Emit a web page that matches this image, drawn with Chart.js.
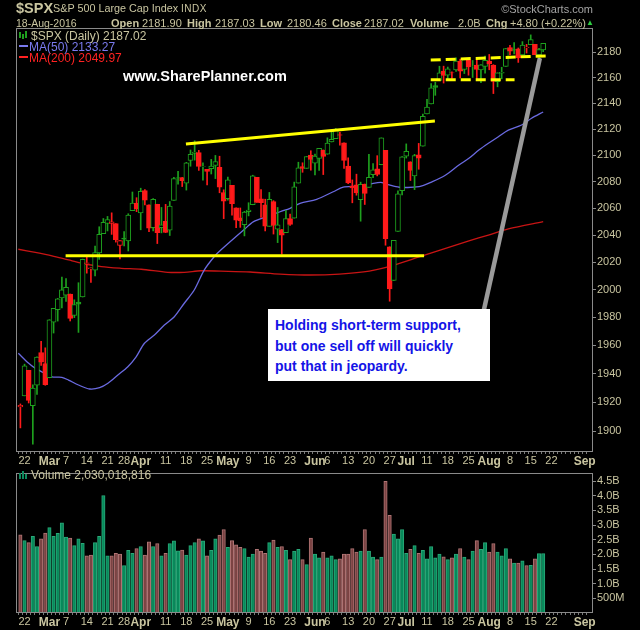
<!DOCTYPE html>
<html>
<head>
<meta charset="utf-8">
<script src="https://cdn.jsdelivr.net/npm/chart.js@4.4.0/dist/chart.umd.min.js"></script>
<style>
html, body { margin: 0; padding: 0; background: #000; }
body { width: 640px; height: 630px; position: relative; overflow: hidden;
       font-family: "Liberation Sans", Arial, sans-serif; color: #c9c5a0; }
canvas { position: absolute; left: 0; }
.t { position: absolute; white-space: nowrap; line-height: normal; }
.b { font-weight: bold; }
#note { position: absolute; left: 268px; top: 309px; width: 222px; height: 72px; background: #fff; }
#note div { position: absolute; left: 7px; font: bold 14px "Liberation Sans", Arial, sans-serif; color: #1414e6; white-space: nowrap; }
</style>
</head>
<body>
<canvas id="price" width="640" height="475" style="top:0"></canvas>
<canvas id="volume" width="640" height="165" style="top:465px"></canvas>

<div class="t b" style="left:16px;top:0px;font-size:14.5px;">$SPX</div>
<div class="t" style="left:53px;top:2px;font-size:10.8px;">S&amp;P 500 Large Cap Index</div>
<div class="t" style="left:181px;top:3px;font-size:10px;letter-spacing:0.5px;">INDX</div>
<div class="t" style="right:47px;top:3px;font-size:11px;color:#a3a3a3;">&copy;StockCharts.com</div>
<div class="t" style="left:16px;top:17px;font-size:10.5px;">18-Aug-2016</div>
<div class="t b" style="left:111px;top:17px;font-size:11px;">Open</div>
<div class="t" style="left:142px;top:17px;font-size:11px;">2181.90</div>
<div class="t b" style="left:187px;top:17px;font-size:11px;">High</div>
<div class="t" style="left:215px;top:17px;font-size:11px;">2187.03</div>
<div class="t b" style="left:260px;top:17px;font-size:11px;">Low</div>
<div class="t" style="left:287px;top:17px;font-size:11px;">2180.46</div>
<div class="t b" style="left:332px;top:17px;font-size:11px;">Close</div>
<div class="t" style="left:364px;top:17px;font-size:11px;">2187.02</div>
<div class="t b" style="left:410px;top:17px;font-size:11px;">Volume</div>
<div class="t" style="left:458px;top:17px;font-size:11px;">2.0B</div>
<div class="t b" style="left:486px;top:17px;font-size:11px;">Chg</div>
<div class="t" style="left:510px;top:17px;font-size:11px;">+4.80 (+0.22%)</div>
<div class="t" style="left:586px;top:18px;font-size:8px;color:#2ecc40;">&#9650;</div>

<div style="position:absolute;left:19px;top:32px;width:2px;height:6px;background:#1ea01e"></div>
<div style="position:absolute;left:22px;top:34px;width:2px;height:5px;background:#1ea01e"></div>
<div style="position:absolute;left:25px;top:31px;width:2px;height:7px;background:#1ea01e"></div>
<div class="t" style="left:31px;top:29px;font-size:12px;">$SPX (Daily) 2187.02</div>
<div style="position:absolute;left:19px;top:45px;width:9px;height:2px;background:#7a7aee"></div>
<div class="t" style="left:29px;top:40px;font-size:12px;color:#7a7aee;">MA(50) 2133.27</div>
<div style="position:absolute;left:19px;top:56px;width:9px;height:2px;background:#ff2222"></div>
<div class="t" style="left:29px;top:51px;font-size:12px;color:#ff2222;">MA(200) 2049.97</div>
<div class="t b" style="left:123px;top:68px;font-size:14.5px;color:#fff;">www.SharePlanner.com</div>

<div id="note">
  <div style="top:8px">Holding short-term support,</div>
  <div style="top:29px">but one sell off will quickly</div>
  <div style="top:49px">put that in jeopardy.</div>
</div>

<div style="position:absolute;left:19px;top:473px;width:2px;height:6px;background:#0e8a5e"></div>
<div style="position:absolute;left:22px;top:471px;width:2px;height:8px;background:#0e8a5e"></div>
<div style="position:absolute;left:25px;top:474px;width:2px;height:5px;background:#0e8a5e"></div>
<div class="t" style="left:31px;top:468px;font-size:12px;">Volume 2,030,018,816</div>

<script>
// trading days shown
const dates = [
  '2016-02-19','2016-02-22','2016-02-23','2016-02-24','2016-02-25','2016-02-26','2016-02-29',
  '2016-03-01','2016-03-02','2016-03-03','2016-03-04','2016-03-07','2016-03-08','2016-03-09','2016-03-10','2016-03-11',
  '2016-03-14','2016-03-15','2016-03-16','2016-03-17','2016-03-18','2016-03-21','2016-03-22','2016-03-23','2016-03-24',
  '2016-03-28','2016-03-29','2016-03-30','2016-03-31',
  '2016-04-01','2016-04-04','2016-04-05','2016-04-06','2016-04-07','2016-04-08','2016-04-11','2016-04-12','2016-04-13',
  '2016-04-14','2016-04-15','2016-04-18','2016-04-19','2016-04-20','2016-04-21','2016-04-22','2016-04-25','2016-04-26',
  '2016-04-27','2016-04-28','2016-04-29',
  '2016-05-02','2016-05-03','2016-05-04','2016-05-05','2016-05-06','2016-05-09','2016-05-10','2016-05-11','2016-05-12',
  '2016-05-13','2016-05-16','2016-05-17','2016-05-18','2016-05-19','2016-05-20','2016-05-23','2016-05-24','2016-05-25',
  '2016-05-26','2016-05-27','2016-05-31',
  '2016-06-01','2016-06-02','2016-06-03','2016-06-06','2016-06-07','2016-06-08','2016-06-09','2016-06-10','2016-06-13',
  '2016-06-14','2016-06-15','2016-06-16','2016-06-17','2016-06-20','2016-06-21','2016-06-22','2016-06-23','2016-06-24',
  '2016-06-27','2016-06-28','2016-06-29','2016-06-30',
  '2016-07-01','2016-07-05','2016-07-06','2016-07-07','2016-07-08','2016-07-11','2016-07-12','2016-07-13','2016-07-14',
  '2016-07-15','2016-07-18','2016-07-19','2016-07-20','2016-07-21','2016-07-22','2016-07-25','2016-07-26','2016-07-27',
  '2016-07-28','2016-07-29',
  '2016-08-01','2016-08-02','2016-08-03','2016-08-04','2016-08-05','2016-08-08','2016-08-09','2016-08-10','2016-08-11',
  '2016-08-12','2016-08-15','2016-08-16','2016-08-17','2016-08-18'
];
// empty days to the right of the last bar
const futureDates = ['2016-08-19','2016-08-22','2016-08-23','2016-08-24','2016-08-25','2016-08-26',
  '2016-08-29','2016-08-30','2016-08-31','2016-09-01'];

const opens = [
  1916.74,1924.44,1942.38,1917.56,1931.87,1954.95,1947.13,
  1937.09,1976.60,1985.60,1994.01,1996.11,1996.88,1981.44,1990.97,1994.71,2019.27,2015.27,2014.24,2026.90,2041.16,
  2048.64,2048.64,2048.55,2032.48,2037.89,2035.75,2058.27,2063.77,
  2056.62,2073.19,2062.50,2045.56,2063.01,2045.54,2050.23,2043.72,2065.92,2082.89,2083.10,2078.83,2096.05,2101.52,
  2102.09,2091.49,2089.37,2089.84,2092.33,2090.93,2071.82,
  2067.17,2077.18,2060.30,2052.95,2047.77,2057.55,2062.63,2083.29,2067.17,2062.50,2046.53,2065.04,2044.38,2044.21,
  2041.88,2052.23,2052.65,2078.93,2091.44,2090.06,2100.13,
  2093.94,2097.71,2104.07,2100.83,2110.18,2112.71,2115.65,2109.57,2091.75,2076.65,2077.60,2066.36,2078.20,2075.58,
  2085.19,2089.75,2092.80,2103.81,2031.45,2006.67,2042.69,2073.17,
  2099.34,2095.05,2084.43,2100.42,2106.97,2131.72,2139.50,2153.81,2157.88,2165.13,2162.04,2163.79,2166.10,2172.91,
  2166.47,2173.71,2168.97,2169.81,2166.05,2168.83,
  2173.15,2169.94,2156.81,2163.51,2168.79,2183.76,2182.24,2182.81,2177.97,2183.74,2186.08,2186.24,2177.84,2181.90
];
const highs = [
  1918.78,1946.70,1942.38,1932.08,1951.83,1962.96,1958.27,
  1978.35,1986.51,1993.69,2009.13,2008.16,1996.88,1992.69,2005.08,2022.37,2024.57,2015.94,2032.02,2046.24,2052.36,
  2053.91,2056.60,2048.55,2036.04,2042.67,2055.91,2072.21,2067.92,
  2075.07,2074.02,2062.50,2067.33,2063.01,2060.63,2062.93,2065.05,2083.18,2087.84,2083.22,2094.66,2104.05,2111.05,
  2103.78,2094.32,2089.37,2096.87,2099.89,2099.30,2073.85,
  2083.42,2077.18,2060.30,2060.23,2057.72,2064.15,2084.87,2083.29,2073.99,2066.79,2071.88,2065.69,2060.61,2044.21,
  2058.35,2055.58,2079.67,2094.73,2094.30,2099.06,2103.48,
  2100.97,2105.26,2104.07,2113.36,2119.22,2120.55,2117.64,2109.57,2098.12,2081.30,2085.65,2079.62,2078.20,2100.66,
  2093.66,2099.71,2113.32,2103.81,2031.45,2036.09,2073.13,2098.94,
  2108.71,2095.05,2100.72,2109.08,2131.71,2143.16,2155.40,2156.45,2168.99,2169.05,2168.35,2164.63,2175.63,2174.56,
  2175.11,2173.71,2173.54,2174.98,2170.23,2177.09,
  2178.29,2170.20,2163.79,2168.19,2182.87,2185.44,2187.66,2183.41,2188.45,2186.28,2193.81,2186.24,2183.08,2187.03
];
const lows = [
  1902.17,1924.44,1919.44,1891.00,1925.41,1945.78,1931.81,
  1937.09,1968.80,1977.37,1986.77,1991.58,1977.43,1979.84,1969.25,1994.71,2012.05,2005.23,2010.04,2022.16,2041.16,
  2043.14,2040.57,2034.86,2022.49,2031.96,2028.31,2058.27,2057.46,
  2043.98,2062.57,2042.56,2043.09,2033.80,2041.69,2041.88,2039.74,2065.92,2078.13,2076.31,2073.65,2091.68,2096.32,
  2088.52,2081.20,2077.52,2085.80,2082.31,2071.62,2052.28,
  2066.11,2054.89,2045.55,2045.77,2039.45,2054.31,2062.63,2064.46,2053.13,2043.13,2046.53,2040.82,2034.49,2025.91,
  2041.88,2047.26,2052.65,2078.93,2087.08,2090.06,2088.66,
  2085.10,2088.59,2085.36,2100.83,2110.18,2112.71,2107.73,2089.96,2078.46,2064.10,2069.80,2050.37,2062.84,2075.58,
  2083.02,2084.36,2092.80,2032.57,1991.68,2006.67,2042.69,2070.00,
  2097.90,2080.86,2074.02,2089.39,2106.97,2131.72,2139.50,2146.21,2157.88,2155.79,2159.07,2159.40,2164.89,2159.75,
  2163.24,2161.95,2160.18,2159.07,2156.08,2163.49,
  2166.21,2147.58,2152.84,2159.07,2168.79,2177.85,2178.61,2172.00,2177.97,2179.42,2186.08,2178.14,2168.50,2180.46
];
const closes = [
  1917.78,1945.50,1921.27,1929.80,1951.70,1948.05,1932.23,
  1978.35,1986.45,1993.40,1999.99,2001.76,1979.26,1989.26,1989.57,2022.19,2019.64,2015.93,2027.22,2040.59,2049.58,
  2051.60,2049.80,2036.71,2035.94,2037.05,2055.01,2063.95,2059.74,
  2072.78,2066.13,2045.17,2066.66,2041.91,2047.60,2041.99,2061.72,2082.42,2082.78,2080.73,2094.34,2100.80,2102.40,
  2091.48,2091.58,2087.79,2091.70,2095.15,2075.81,2065.30,
  2081.43,2063.37,2051.12,2050.63,2057.14,2058.69,2084.39,2064.46,2064.11,2046.61,2066.66,2047.21,2047.63,2040.04,
  2052.32,2048.04,2076.06,2090.54,2090.10,2099.06,2096.95,
  2099.33,2105.26,2099.13,2109.41,2112.13,2119.12,2115.48,2096.07,2079.06,2075.32,2071.50,2077.99,2071.22,2083.25,
  2088.90,2085.45,2113.32,2037.41,2000.54,2036.09,2070.77,2098.86,
  2102.95,2088.55,2099.73,2097.90,2129.90,2137.16,2152.14,2152.43,2163.75,2161.74,2166.89,2163.78,2173.02,2165.17,
  2175.03,2168.48,2169.18,2166.58,2170.06,2173.60,
  2170.84,2157.03,2163.79,2164.25,2182.87,2180.89,2181.74,2175.49,2185.79,2184.05,2190.15,2178.15,2182.22,2187.02
];
const priorClose = 1917.83;

// daily volume, billions of shares
const volumes = [
  2.67,2.47,2.40,2.62,2.27,2.53,2.73,
  2.91,2.62,2.72,3.08,2.59,2.56,2.30,2.53,2.38,1.95,1.98,2.40,2.62,4.01,
  1.95,1.95,2.04,2.01,1.62,2.14,2.04,2.20,
  2.27,1.98,2.43,2.27,2.37,1.95,2.04,2.37,2.46,2.12,2.15,1.98,2.30,2.40,
  2.53,2.46,1.95,2.14,2.53,2.66,2.85,
  2.24,2.47,2.33,2.24,2.20,1.91,2.01,2.17,2.11,2.04,2.40,2.49,2.24,2.27,
  2.14,1.82,2.11,2.17,1.82,1.65,2.56,
  2.01,1.88,2.08,1.88,1.95,1.82,1.85,2.01,2.01,2.20,2.08,2.11,2.85,2.11,
  1.91,1.82,1.91,4.49,3.33,2.69,2.53,2.85,
  2.04,2.17,2.30,2.04,2.14,1.85,2.27,1.88,2.01,1.92,1.82,1.88,2.01,2.20,
  1.91,1.82,2.11,2.47,2.17,2.40,
  2.08,2.37,2.08,1.95,2.20,1.85,1.70,1.70,1.78,1.62,1.63,1.85,2.03,2.03
];

// moving averages: bar position -> value
const ma50Pos = [-0.5,2.0,3.5,7.6,10.0,11.6,14.0,16.7,19.1,21.1,23.5,25.9,27.9,29.9,32.3,34.7,37.1,39.5,41.9,44.3,
  46.7,48.3,53.8,56.2,59.4,62.6,65.0,67.4,71.4,75.4,77.8,81.0,84.1,86.9,88.9,91.3,96.1,99.3,102.5,105.7,108.1,
  110.5,112.8,115.2,117.6,120.8,123.2,126.0];
const ma50 = [1954.4,1947.3,1944.0,1937.8,1937.4,1935.5,1932.0,1929.2,1930.1,1933.2,1939.0,1944.9,1951.9,1961.5,
  1967.4,1974.5,1980.5,1990.2,1999.8,2014.3,2024.1,2029.0,2043.8,2050.0,2053.7,2057.4,2060.0,2063.7,2066.7,2072.4,
  2075.8,2076.7,2078.0,2079.5,2077.5,2075.8,2076.2,2080.0,2085.0,2092.6,2097.7,2104.0,2109.2,2114.2,2119.3,2123.2,
  2128.4,2133.27];
const ma200Pos = [-0.5,3.6,7.6,11.6,14.8,19.5,24.3,29.1,35.5,39.5,43.5,48.3,55.4,62.6,69.8,76.9,84.1,90.1,96.1,
  102.1,108.1,112.8,117.6,126.0];
const ma200 = [2029.6,2027.3,2024.8,2021.7,2019.3,2016.8,2015.6,2014.9,2012.7,2012.7,2013.8,2013.5,2012.9,2011.4,
  2010.7,2011.4,2013.6,2018.0,2023.9,2029.8,2035.7,2040.1,2044.6,2049.97];

// hand-drawn annotations: [startPos, startPrice, endPos, endPrice]
const resistanceLine = [39.9, 2108.6, 99.9, 2126.3];
const supportLine = [10.9, 2024.8, 97.3, 2024.8];
const rangeTop = [98.9, 2173.9, 126.9, 2177.1];
const rangeBottom = [98.9, 2158.4, 119.1, 2158.4];
const pointer = [111.6, 1983.9, 125.2, 2175.3];

const priceTicks = [1900,1920,1940,1960,1980,2000,2020,2040,2060,2080,2100,2120,2140,2160,2180];
const volumeTicks = [0.5,1.0,1.5,2.0,2.5,3.0,3.5,4.0,4.5];
const tickDates = ['2016-02-22','2016-03-01','2016-03-07','2016-03-14','2016-03-21','2016-03-28','2016-04-01',
  '2016-04-11','2016-04-18','2016-04-25','2016-05-02','2016-05-09','2016-05-16','2016-05-23','2016-06-01',
  '2016-06-06','2016-06-13','2016-06-20','2016-06-27','2016-07-01','2016-07-11','2016-07-18','2016-07-25',
  '2016-08-01','2016-08-08','2016-08-15','2016-08-22','2016-09-01'];
const tickTexts = ['22','Mar','7','14','21','28','Apr','11','18','25','May','9','16','23','Jun','6','13','20','27',
  'Jul','11','18','25','Aug','8','15','22','Sep'];

const GREEN = '#1ea01e', RED = '#ff1a1a', TEXT = '#c9c5a0', FONT = '"Liberation Sans", Arial, sans-serif';
Chart.defaults.font.family = FONT;

const allDates = dates.concat(futureDates);
const tickMap = new Map();
tickDates.forEach((d, i) => tickMap.set(allDates.indexOf(d), tickTexts[i]));

const up = closes.map((c, i) => c >= (i ? closes[i - 1] : priorClose));
const candleColor = up.map(u => u ? GREEN : RED);
const hollow = closes.map((c, i) => c >= opens[i]);

const seg = (a, color, width, dash) => ({
  type: 'line', data: [{x: a[0], y: a[1]}, {x: a[2], y: a[3]}],
  borderColor: color, borderWidth: width, borderDash: dash || [], pointRadius: 0, order: 0
});

const plotBorder = {
  id: 'plotBorder',
  afterDraw(chart) {
    const a = chart.chartArea, c = chart.ctx;
    c.save();
    c.strokeStyle = '#8a8a8a';
    c.lineWidth = 1;
    c.strokeRect(Math.round(a.left) + 0.5, Math.round(a.top) + 0.5,
      Math.round(a.right - a.left) - 1, Math.round(a.bottom - a.top) - 1);
    c.restore();
  }
};

const xAxis = (height) => ({
  type: 'linear', min: -0.55, max: 137.5,
  afterBuildTicks: s => { s.ticks = allDates.map((d, i) => ({value: i})); },
  afterFit: s => { s.height = height; },
  border: {display: false},
  grid: {drawOnChartArea: false, tickLength: 2, color: '#7a7a7a'},
  ticks: {
    autoSkip: false, maxRotation: 0, padding: 0, color: TEXT,
    callback: v => tickMap.get(v) || '',
    font: ctx => (/^[A-Z]/.test(tickMap.get(ctx.tick && ctx.tick.value) || ''))
      ? {size: 12, weight: 'bold', family: FONT} : {size: 11, family: FONT}
  }
});

new Chart(document.getElementById('price'), {
  data: {
    datasets: [
      seg(resistanceLine, '#ffff00', 3),
      seg(supportLine, '#ffff00', 3),
      seg(rangeTop, '#ffff00', 3, [10, 5]),
      seg(rangeBottom, '#ffff00', 3, [10, 5]),
      seg(pointer, '#9a9a9a', 4.5),
      seg(pointer, '#ffffff', 2),
      {
        type: 'bar', order: 1, grouped: false, barThickness: 5, borderWidth: 1, borderSkipped: false,
        data: dates.map((d, i) => ({x: i, y: [opens[i], closes[i]]})),
        backgroundColor: candleColor.map((c, i) => hollow[i] ? '#000' : c),
        borderColor: candleColor
      },
      {
        type: 'bar', order: 2, grouped: false, barThickness: 1,
        data: dates.map((d, i) => ({x: i, y: [lows[i], highs[i]]})),
        backgroundColor: candleColor
      },
      {
        type: 'line', order: 3, data: ma50Pos.map((p, i) => ({x: p, y: ma50[i]})),
        borderColor: '#6a6ae0', borderWidth: 1.3, pointRadius: 0, tension: 0.3
      },
      {
        type: 'line', order: 3, data: ma200Pos.map((p, i) => ({x: p, y: ma200[i]})),
        borderColor: '#c81414', borderWidth: 1.3, pointRadius: 0, tension: 0.3
      }
    ]
  },
  options: {
    responsive: false, animation: false, events: [], devicePixelRatio: 1,
    layout: {padding: {left: 16, top: 28, right: 0, bottom: 0}},
    plugins: {legend: {display: false}, tooltip: {enabled: false}},
    scales: {
      x: xAxis(23),
      y: {
        type: 'logarithmic', position: 'right', min: 1885.6, max: 2199.3,
        afterBuildTicks: s => { s.ticks = priceTicks.map(v => ({value: v})); },
        afterFit: s => { s.width = 47; },
        border: {display: false},
        grid: {drawOnChartArea: false, tickLength: 3, color: '#8a8a8a'},
        ticks: {color: TEXT, padding: 1, font: {size: 11}, callback: v => String(v)}
      }
    }
  },
  plugins: [plotBorder]
});

new Chart(document.getElementById('volume'), {
  type: 'bar',
  data: {
    datasets: [{
      data: dates.map((d, i) => ({x: i, y: volumes[i]})),
      barThickness: 3.4, borderWidth: 1, borderSkipped: 'start',
      backgroundColor: up.map(u => u ? '#078a5b' : '#7b4343'),
      borderColor: up.map(u => u ? '#2aa878' : '#b07474')
    }]
  },
  options: {
    responsive: false, animation: false, events: [], devicePixelRatio: 1,
    layout: {padding: {left: 16, top: 2, right: 0, bottom: 0}},
    plugins: {legend: {display: false}, tooltip: {enabled: false}},
    scales: {
      x: xAxis(17),
      y: {
        position: 'right', min: 0, max: 4.79,
        afterBuildTicks: s => { s.ticks = volumeTicks.map(v => ({value: v})); },
        afterFit: s => { s.width = 47; },
        border: {display: false},
        grid: {drawOnChartArea: false, tickLength: 3, color: '#8a8a8a'},
        ticks: {color: TEXT, padding: 1, font: {size: 11},
          callback: v => v < 1 ? (v * 1000) + 'M' : v.toFixed(1) + 'B'}
      }
    }
  },
  plugins: [plotBorder]
});
</script>
</body>
</html>
